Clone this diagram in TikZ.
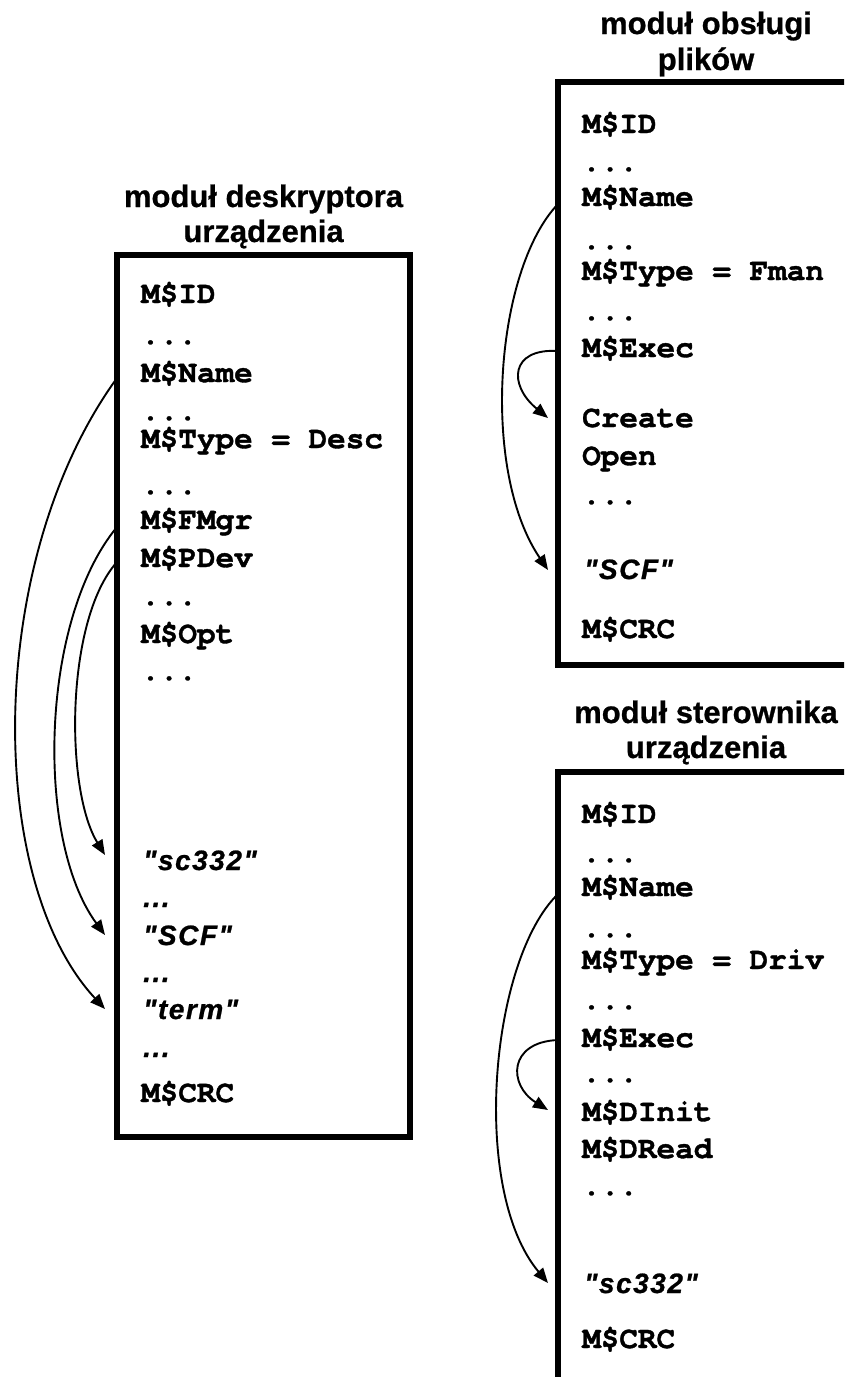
\documentclass[tikz,border=0pt]{standalone}
\usepackage{fontspec}
\setmainfont{Liberation Sans}[BoldFeatures={FakeBold=0.8}]
\setmonofont{TeX Gyre Cursor}[BoldFeatures={FakeBold=1.2}]
\newfontfamily\strfont{Liberation Sans}[LetterSpace=5.5,BoldItalicFeatures={FakeBold=0.8}]
\usetikzlibrary{arrows.meta}
\tikzset{
  box/.style={draw, line width=5.5pt, outer sep=0pt, inner sep=0pt},
  title/.style={anchor=base, inner sep=0pt, font=\fontsize{31}{35}\selectfont\bfseries},
  field/.style={anchor=base west, inner sep=0pt, font=\fontsize{31}{36}\selectfont\ttfamily\bfseries},
  str/.style={anchor=base west, inner sep=0pt, font=\fontsize{28}{34}\selectfont\strfont\bfseries\itshape},
  conn/.style={line width=1.9pt, -{Triangle[length=15pt,width=12pt]}},
}
\begin{document}
\begin{tikzpicture}[x=1pt,y=-1pt]
\useasboundingbox (0,0) rectangle (844,1377);
\clip (0,0) rectangle (844,1377);

% module boxes
\node[box, minimum width=293pt, minimum height=882pt] (desc) at (263.5,696) {};
\node[box, minimum width=296pt, minimum height=583pt] (fman) at (706,373.5) {};
\node[box, minimum width=296pt, minimum height=628pt] (drv) at (706,1086) {};

% titles
\node[title] (tDa) at (263.5,207) {moduł deskryptora};
\node[title] (tDb) at (263.5,242) {urządzenia};
\node[title] (tFa) at (706,34) {moduł obsługi};
\node[title] (tFb) at (706,70) {plików};
\node[title] (tRa) at (706,723) {moduł sterownika};
\node[title] (tRb) at (706,758) {urządzenia};

% device descriptor module
\node[field] (dId)   at (141,303)  {M\$ID};
\node[field] (d1)    at (141,344)  {...};
\node[field] (dName) at (141,382)  {M\$Name};
\node[field] (d2)    at (141,420)  {...};
\node[field] (dType) at (141,448)  {M\$Type = Desc};
\node[field] (d3)    at (141,494)  {...};
\node[field] (dFMgr) at (141,529)  {M\$FMgr};
\node[field] (dPDev) at (141,567)  {M\$PDev};
\node[field] (d4)    at (141,605)  {...};
\node[field] (dOpt)  at (141,643)  {M\$Opt};
\node[field] (d5)    at (141,680)  {...};
\node[str]   (dSc)   at (143,870)  {"sc332"};
\node[str]   (d6)    at (143,907)  {...};
\node[str]   (dScf)  at (143,945)  {"SCF"};
\node[str]   (d7)    at (143,982)  {...};
\node[str]   (dTerm) at (143,1019) {"term"};
\node[str]   (d8)    at (143,1057) {...};
\node[field] (dCrc)  at (141,1102) {M\$CRC};

% file manager module
\node[field] (fId)     at (582,133) {M\$ID};
\node[field] (f1)      at (582,171) {...};
\node[field] (fName)   at (582,206) {M\$Name};
\node[field] (f2)      at (582,249) {...};
\node[field] (fType)   at (582,280) {M\$Type = Fman};
\node[field] (f3)      at (582,320) {...};
\node[field] (fExec)   at (582,357) {M\$Exec};
\node[field] (fCreate) at (582,427) {Create};
\node[field] (fOpen)   at (582,465) {Open};
\node[field] (f4)      at (582,504) {...};
\node[str]   (fScf)    at (584,579) {"SCF"};
\node[field] (fCrc)    at (582,638) {M\$CRC};

% device driver module
\node[field] (rId)    at (582,823)  {M\$ID};
\node[field] (r1)     at (582,862)  {...};
\node[field] (rName)  at (582,896)  {M\$Name};
\node[field] (r2)     at (582,937)  {...};
\node[field] (rType)  at (582,969)  {M\$Type = Driv};
\node[field] (r3)     at (582,1009) {...};
\node[field] (rExec)  at (582,1047) {M\$Exec};
\node[field] (r4)     at (582,1082) {...};
\node[field] (rDInit) at (582,1121) {M\$DInit};
\node[field] (rDRead) at (582,1158) {M\$DRead};
\node[field] (r5)     at (582,1195) {...};
\node[str]   (rSc)    at (584,1293) {"sc332"};
\node[field] (rCrc)   at (582,1348) {M\$CRC};

% references from header fields into the string area
\draw[conn] ([yshift=4pt]desc.west |- dName.base) .. controls (-15,560) and (-15,880) .. ([xshift=-12pt,yshift=10pt]desc.west |- dTerm.base);
\draw[conn] ([yshift=2pt]desc.west |- dFMgr.base) .. controls (40,620) and (35,840) .. ([xshift=-12pt,yshift=10pt]desc.west |- dScf.base);
\draw[conn] ([yshift=5pt]desc.west |- dPDev.base) .. controls (65,620) and (65,790) .. ([xshift=-12pt,yshift=15pt]desc.west |- dSc.base);

\draw[conn] ([yshift=2pt]fman.west |- fName.base) .. controls (495,270) and (480,470) .. ([xshift=-10pt,yshift=9pt]fman.west |- fScf.base);
\draw[conn] ([yshift=6pt]fman.west |- fExec.base) .. controls (510,348) and (508,385) .. ([xshift=-10pt,yshift=9pt]fman.west |- fCreate.base);

\draw[conn] ([yshift=2pt]drv.west |- rName.base) .. controls (490,960) and (470,1190) .. ([xshift=-10pt,yshift=10pt]drv.west |- rSc.base);
\draw[conn] ([yshift=7pt]drv.west |- rExec.base) .. controls (508,1042) and (508,1085) .. ([xshift=-10pt,yshift=11pt]drv.west |- rDInit.base);
\end{tikzpicture}
\end{document}
